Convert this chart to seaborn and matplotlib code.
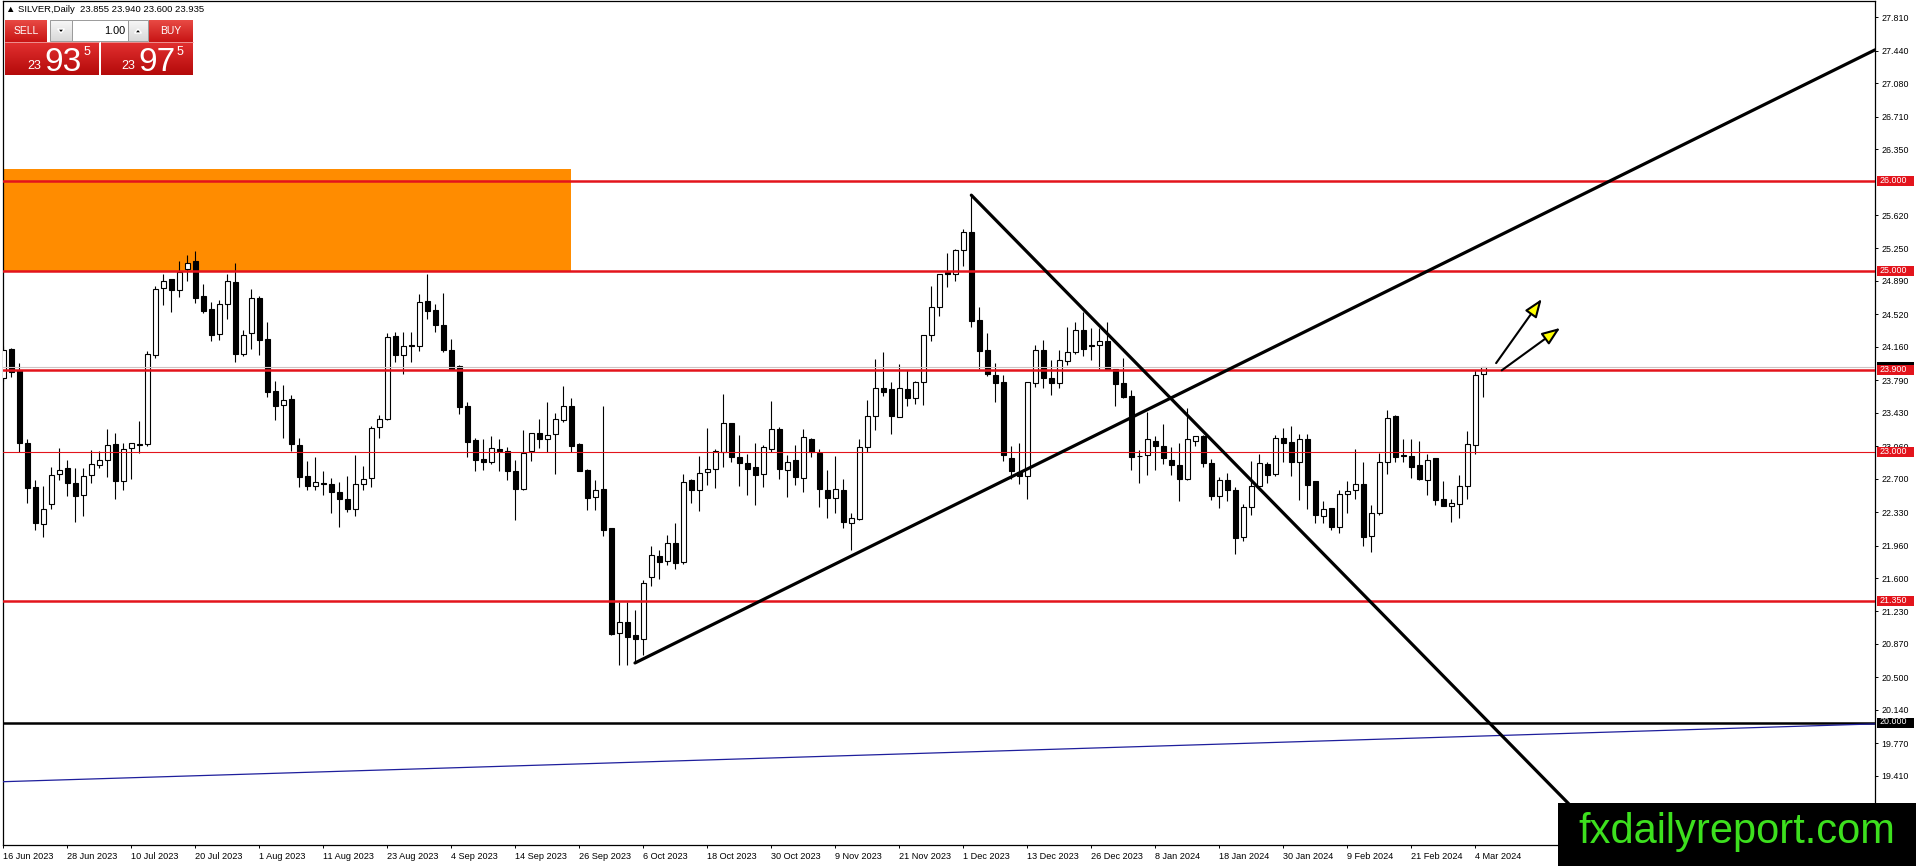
import numpy as np
import pandas as pd
import matplotlib
matplotlib.use("Agg")
import matplotlib.pyplot as plt
import matplotlib.transforms as mtransforms
import matplotlib.colors as mcolors
from matplotlib.patches import Rectangle, Polygon, FancyArrowPatch
import seaborn as sns

# ---------------- data ----------------
open_ = [23.82, 24.14, 23.90, 23.09, 22.61, 22.20, 22.42, 22.75, 22.82, 22.65,
         22.52, 22.74, 22.85, 22.91, 23.08, 22.67, 23.04, 23.08, 23.08, 24.07,
         24.81, 24.91, 24.79, 25.02, 25.11, 24.72, 24.58, 24.30, 24.64, 24.88,
         24.08, 24.31, 24.70, 24.25, 23.67, 23.52, 23.58, 23.07, 22.73, 22.62,
         22.65, 22.64, 22.55, 22.47, 22.37, 22.64, 22.71, 23.27, 23.36, 24.28,
         24.07, 24.18, 24.17, 24.67, 24.57, 24.40, 24.13, 23.95, 23.50, 23.13,
         22.92, 22.88, 23.03, 23.01, 22.79, 22.59, 23.01, 23.21, 23.14, 23.19,
         23.35, 23.50, 23.08, 22.80, 22.50, 22.59, 22.15, 20.99, 21.11, 20.97,
         20.92, 21.61, 21.84, 21.79, 21.99, 21.78, 22.69, 22.57, 22.77, 22.81,
         23.00, 23.32, 22.94, 22.87, 22.83, 22.75, 23.03, 23.25, 22.80, 22.91,
         22.71, 23.14, 22.99, 22.58, 22.49, 22.58, 22.21, 22.25, 23.05, 23.39,
         23.70, 23.69, 23.38, 23.69, 23.59, 23.77, 24.29, 24.60, 24.99, 24.97,
         25.23, 25.43, 24.46, 24.12, 23.85, 23.77, 22.93, 22.77, 22.73, 23.76,
         24.13, 23.81, 23.76, 24.00, 24.10, 24.35, 24.18, 24.18, 24.23, 23.92,
         23.76, 23.62, 22.95, 22.96, 23.12, 23.06, 22.91, 22.85, 22.70, 23.12,
         23.17, 22.87, 22.51, 22.69, 22.58, 22.05, 22.39, 22.62, 22.86, 22.75,
         23.15, 23.11, 22.88, 23.14, 22.67, 22.29, 22.38, 22.16, 22.53, 22.57,
         22.64, 22.07, 22.32, 22.88, 23.39, 22.96, 22.95, 22.85, 22.69, 22.93,
         22.47, 22.40, 22.42, 22.62, 23.07, 23.855]
high = [24.17, 24.15, 23.98, 23.14, 22.69, 22.62, 22.83, 23.04, 22.91, 22.82,
        22.82, 23.02, 23.01, 23.25, 23.21, 23.10, 23.10, 23.34, 24.11, 24.83,
        24.97, 24.91, 25.11, 25.18, 25.22, 24.86, 24.66, 24.68, 24.97, 25.09,
        24.35, 24.80, 24.72, 24.44, 23.78, 23.74, 23.63, 23.15, 22.90, 22.94,
        22.79, 22.71, 22.66, 22.73, 22.96, 22.84, 23.28, 23.41, 24.31, 24.32,
        24.33, 24.33, 24.75, 24.97, 24.63, 24.76, 24.25, 23.96, 23.55, 23.15,
        23.14, 23.17, 23.14, 23.05, 22.91, 23.24, 23.21, 23.36, 23.55, 23.43,
        23.73, 23.59, 23.10, 22.81, 22.69, 23.50, 22.15, 21.34, 21.34, 21.25,
        21.58, 21.95, 21.91, 22.08, 22.21, 22.75, 22.70, 22.95, 23.26, 23.03,
        23.64, 23.32, 23.18, 22.97, 23.09, 23.07, 23.56, 23.27, 22.96, 23.07,
        23.25, 23.15, 23.03, 22.80, 22.95, 22.70, 22.32, 23.14, 23.57, 24.03,
        24.10, 23.77, 23.97, 23.90, 23.78, 24.29, 24.83, 24.97, 25.20, 25.24,
        25.47, 25.84, 24.60, 24.31, 23.98, 23.85, 23.06, 23.09, 23.77, 24.18,
        24.24, 24.01, 24.13, 24.38, 24.43, 24.55, 24.37, 24.37, 24.44, 23.92,
        24.04, 23.68, 23.02, 23.44, 23.17, 23.31, 23.05, 23.10, 23.48, 23.17,
        23.18, 22.92, 22.72, 22.76, 22.61, 22.42, 22.90, 22.97, 22.88, 23.18,
        23.26, 23.28, 23.20, 23.20, 22.67, 22.45, 22.38, 22.58, 22.67, 23.03,
        22.89, 22.41, 22.98, 23.46, 23.41, 23.14, 23.14, 23.12, 22.97, 22.93,
        22.68, 22.47, 22.74, 23.23, 23.90, 23.940]
low = [23.78, 23.83, 23.00, 22.43, 22.13, 22.06, 22.37, 22.69, 22.51, 22.22,
       22.29, 22.65, 22.82, 22.72, 22.47, 22.57, 22.70, 22.98, 23.06, 24.04,
       24.62, 24.55, 24.71, 24.89, 24.65, 24.54, 24.22, 24.24, 24.47, 23.99,
       24.06, 24.14, 24.07, 23.60, 23.35, 23.15, 23.01, 22.61, 22.57, 22.57,
       22.52, 22.32, 22.17, 22.33, 22.29, 22.58, 22.61, 23.15, 23.35, 23.99,
       23.86, 23.99, 24.11, 24.47, 24.32, 24.10, 23.90, 23.42, 22.94, 22.78,
       22.80, 22.86, 22.78, 22.69, 22.24, 22.57, 22.90, 23.04, 23.00, 22.75,
       23.33, 23.00, 22.79, 22.35, 22.35, 22.07, 20.97, 20.64, 20.64, 20.66,
       20.75, 21.51, 21.59, 21.74, 21.70, 21.76, 22.43, 22.34, 22.63, 22.60,
       22.83, 22.88, 22.62, 22.52, 22.41, 22.61, 23.00, 22.70, 22.50, 22.63,
       22.55, 22.94, 22.39, 22.26, 22.32, 22.15, 21.91, 22.24, 23.00, 23.24,
       23.62, 23.20, 23.38, 23.50, 23.53, 23.52, 24.22, 24.50, 24.82, 24.89,
       25.05, 24.38, 23.91, 23.84, 23.55, 22.90, 22.70, 22.64, 22.47, 23.72,
       23.71, 23.63, 23.71, 23.96, 24.08, 24.06, 24.02, 23.92, 23.92, 23.50,
       23.59, 22.80, 22.65, 22.74, 22.80, 22.86, 22.74, 22.45, 22.69, 23.06,
       22.83, 22.46, 22.38, 22.45, 21.87, 22.01, 22.30, 22.58, 22.65, 22.73,
       22.89, 22.73, 22.46, 22.37, 22.21, 22.21, 22.13, 22.10, 22.32, 22.47,
       21.95, 21.89, 22.30, 22.75, 22.88, 22.88, 22.71, 22.69, 22.52, 22.41,
       22.40, 22.22, 22.27, 22.47, 22.97, 23.600]
close = [24.13, 23.88, 23.09, 22.60, 22.21, 22.37, 22.74, 22.80, 22.65, 22.51,
         22.73, 22.86, 22.91, 23.07, 22.68, 23.03, 23.10, 23.07, 24.08, 24.80,
         24.89, 24.79, 24.99, 25.09, 24.70, 24.56, 24.29, 24.63, 24.89, 24.08,
         24.29, 24.70, 24.24, 23.66, 23.51, 23.57, 23.08, 22.72, 22.62, 22.66,
         22.64, 22.55, 22.47, 22.36, 22.64, 22.70, 23.26, 23.36, 24.27, 24.07,
         24.17, 24.17, 24.66, 24.56, 24.40, 24.13, 23.92, 23.49, 23.11, 22.91,
         22.88, 23.04, 23.01, 22.78, 22.59, 22.98, 23.21, 23.14, 23.18, 23.36,
         23.51, 23.06, 22.79, 22.49, 22.58, 22.13, 20.98, 21.11, 20.95, 20.92,
         21.55, 21.85, 21.78, 21.99, 21.77, 22.66, 22.57, 22.76, 22.81, 23.01,
         23.32, 22.94, 22.87, 22.81, 22.74, 23.05, 23.25, 22.81, 22.89, 22.72,
         23.16, 23.00, 22.59, 22.49, 22.59, 22.22, 22.26, 23.05, 23.39, 23.70,
         23.66, 23.39, 23.70, 23.59, 23.77, 24.29, 24.60, 24.97, 24.97, 25.23,
         25.43, 24.45, 24.11, 23.86, 23.76, 22.96, 22.78, 22.73, 23.77, 24.13,
         23.82, 23.76, 24.01, 24.10, 24.35, 24.14, 24.17, 24.23, 23.92, 23.75,
         23.61, 22.94, 22.95, 23.14, 23.06, 22.93, 22.85, 22.70, 23.14, 23.17,
         22.87, 22.51, 22.69, 22.58, 22.04, 22.39, 22.62, 22.87, 22.74, 23.15,
         23.10, 22.89, 23.14, 22.63, 22.30, 22.37, 22.17, 22.53, 22.56, 22.64,
         22.06, 22.32, 22.88, 23.37, 22.94, 22.95, 22.83, 22.70, 22.91, 22.46,
         22.40, 22.43, 22.62, 23.08, 23.85, 23.935]

# level lines
red_levels = [26.000, 25.000, 23.900, 21.350]
thin_red_level = 23.000
black_level = 20.000
bid_price = 23.935
# supply zone (orange box): bars and prices
zone_k = [-0.5, 70.9]
zone_p = [25.000, 26.130]
# trendline anchors (bar index, price)
up_trend_k = [78.96, 107.5]
up_trend_p = [20.66, 21.91]
down_trend_k = [121.0, 184.6]
down_trend_p = [25.84, 20.10]
blue_k = [0.0, 184.6]
blue_p = [19.345, 19.850]
# arrows (start bar, start price, end bar, end price)
arrow1 = [186.6, 23.98, 192.3, 24.69]
arrow2 = [187.3, 23.90, 194.6, 24.37]
# visible price axis ticks
ytick_vals = [19.410, 19.770, 20.140, 20.500, 20.870, 21.230, 21.600,
              21.960, 22.330, 22.700, 23.060, 23.430, 23.790, 24.160, 24.520,
              24.890, 25.250, 25.620, 26.350, 26.710, 27.080, 27.440, 27.810]
header_text = "\u25B2 SILVER,Daily  23.855 23.940 23.600 23.935"
sell_quote = ["23", "93", "5"]
buy_quote = ["23", "97", "5"]
lot_text = "1.00"
watermark = "fxdailyreport.com"

# ---------------- build ----------------
dates = pd.bdate_range("2023-06-16", "2024-03-05")
dates = dates[~dates.isin(pd.to_datetime(["2023-12-25", "2024-01-01"]))]
n = len(open_)
dates = dates[:n]
df = pd.DataFrame({"k": np.arange(n), "open": open_, "high": high,
                   "low": low, "close": close})
df["bull"] = df["close"] >= df["open"]

sns.set_style("white")
plt.rcParams["font.family"] = ["Liberation Sans", "DejaVu Sans"]

W, H = 1916, 866
fig = plt.figure(figsize=(W / 100, H / 100), dpi=100)
fig.patch.set_facecolor("white")
ax_l, ax_r, ax_t, ax_b = 3, 1875, 1, 845
ax = fig.add_axes([ax_l / W, (H - ax_b) / H, (ax_r - ax_l) / W, (ax_b - ax_t) / H])
ax.set_facecolor("white")

x_left, x_right = -0.04, 233.96
y_bottom, y_top = 18.644, 27.99
ax.set_xlim(x_left, x_right)
ax.set_ylim(y_bottom, y_top)
px_per_price = (ax_b - ax_t) / (y_top - y_bottom)

# orange zone (background)
ax.add_patch(Rectangle((zone_k[0], zone_p[0]), zone_k[1] - zone_k[0],
                       zone_p[1] - zone_p[0], facecolor="#ff8c00",
                       edgecolor="none", zorder=1))

# candles
ax.vlines(df["k"], df["low"], df["high"], color="black", lw=0.8, zorder=3)
body_bot = np.minimum(df["open"], df["close"])
body_h = np.maximum((df["close"] - df["open"]).abs(), 0.004)
ax.bar(df["k"], body_h, bottom=body_bot, width=0.56,
       color=np.where(df["bull"], "white", "black"), edgecolor="black",
       linewidth=0.8, zorder=4)

# horizontal levels
ax.axhline(bid_price, color="#cfc4c4", lw=0.8, zorder=5)
for lv in red_levels:
    ax.axhline(lv, color="#e3141c", lw=1.8, zorder=5)
ax.axhline(thin_red_level, color="#e3141c", lw=0.8, zorder=5)
ax.axhline(black_level, color="black", lw=1.8, zorder=5)

# trendlines (rays to the right)
def ray(ks, ps, k_from, k_to):
    s = (ps[1] - ps[0]) / (ks[1] - ks[0])
    return [k_from, k_to], [ps[0] + s * (k_from - ks[0]), ps[0] + s * (k_to - ks[0])]

bx, by = ray(blue_k, blue_p, x_left - 1, x_right + 1)
sns.lineplot(x=bx, y=by, ax=ax, color="#1e1e9c", lw=0.9, legend=False,
             estimator=None, sort=False, zorder=5)
ux, uy = ray(up_trend_k, up_trend_p, up_trend_k[0], x_right)
sns.lineplot(x=ux, y=uy, ax=ax, color="black", lw=2.3, legend=False,
             estimator=None, sort=False, zorder=6)
dx, dy = ray(down_trend_k, down_trend_p, down_trend_k[0], x_right)
sns.lineplot(x=dx, y=dy, ax=ax, color="black", lw=2.3, legend=False,
             estimator=None, sort=False, zorder=6)
ax.set_xlim(x_left, x_right)
ax.set_ylim(y_bottom, y_top)
ax.set_xlabel("")
ax.set_ylabel("")

# arrows (patches, no text)
for a in (arrow1, arrow2):
    ax.add_patch(FancyArrowPatch((a[0], a[1]), (a[2], a[3]),
                                 arrowstyle="-|>,head_length=1.1,head_width=0.42",
                                 mutation_scale=10, facecolor="#ffff00",
                                 edgecolor="black", lw=1.5, shrinkA=0, shrinkB=0,
                                 zorder=7))

# axes / ticks
for s in ax.spines.values():
    s.set_color("black")
    s.set_linewidth(0.9)
ax.yaxis.tick_right()
ax.set_yticks(ytick_vals)
ax.set_yticklabels([f"{v:.3f}" for v in ytick_vals])
tick_idx = list(range(0, n, 8))
ax.set_xticks(tick_idx)
ax.set_xticklabels([f"{dates[i].day} {dates[i].strftime('%b %Y')}" for i in tick_idx])
ax.tick_params(axis="y", which="both", left=False, right=True, labelleft=False,
               labelright=True, length=2.4, width=0.7, pad=2.4, labelsize=6.4,
               direction="out", colors="black")
ax.tick_params(axis="x", bottom=True, length=2.4, width=0.7, pad=2.5,
               labelsize=6.6, direction="out", colors="black")
for lbl in ax.get_xticklabels():
    lbl.set_horizontalalignment("left")
ax.grid(False)

# price label boxes on the axis
trans = mtransforms.blended_transform_factory(ax.transAxes, ax.transData)
axw = ax_r - ax_l
box_h = 10.0 / px_per_price
# current-price marker partly hidden behind the 23.900 label
ax.add_patch(Rectangle((1.0 + 2.0 / axw, bid_price - box_h / 2), 37.0 / axw, box_h,
                       transform=trans, facecolor="black", edgecolor="none",
                       clip_on=False, zorder=19))

def price_box(val, fc, txt):
    ax.add_patch(Rectangle((1.0 + 2.0 / axw, val - box_h / 2), 37.0 / axw, box_h,
                           transform=trans, facecolor=fc, edgecolor="none",
                           clip_on=False, zorder=20))
    ax.text(1.0 + 5.0 / axw, val + 0.6 / px_per_price, txt, transform=trans,
            ha="left", va="center", fontsize=6.4, color="white", clip_on=False,
            zorder=21)

for lv in red_levels:
    price_box(lv, "#e3141c", f"{lv:.3f}")
price_box(thin_red_level, "#e3141c", f"{thin_red_level:.3f}")
price_box(black_level, "black", f"{black_level:.3f}")

# ---------------- overlay (pixel coordinates) ----------------
ov = fig.add_axes([0, 0, 1, 1], zorder=10)
ov.patch.set_visible(False)
ov.set_xlim(0, W)
ov.set_ylim(H, 0)
ov.axis("off")

def grad_rect(x0, y0, x1, y1, c_top, c_bot, z=2):
    t = np.linspace(0, 1, 64)[:, None]
    ct = np.array(mcolors.to_rgb(c_top))
    cb = np.array(mcolors.to_rgb(c_bot))
    img = (ct * (1 - t) + cb * t)[:, None, :]
    ov.imshow(img, extent=(x0, x1, y1, y0), origin="upper", aspect="auto",
              interpolation="bilinear", zorder=z)

ov.text(6, 10, header_text, fontsize=6.8, color="black", ha="left", va="center")

# trade panel
grad_rect(5, 20, 47, 42, "#e84a44", "#c81414")
ov.text(26, 31.5, "SELL", fontsize=7.5, color="white", ha="center", va="center")
grad_rect(50, 20, 72, 41, "#f8f8f8", "#d8d8d8")
ov.add_patch(Rectangle((50, 20), 22, 21, fill=False, ec="#9a9a9a", lw=0.7, zorder=3))
ov.add_patch(Polygon([(57.5, 29), (64.5, 29), (61, 33)], closed=True, fc="black", zorder=4))
ov.add_patch(Rectangle((72, 20), 56, 21, fc="white", ec="#9a9a9a", lw=0.7, zorder=3))
ov.text(125, 31, lot_text, fontsize=7.8, color="black", ha="right", va="center")
grad_rect(128, 20, 148, 41, "#f8f8f8", "#d8d8d8")
ov.add_patch(Rectangle((128, 20), 20, 21, fill=False, ec="#9a9a9a", lw=0.7, zorder=3))
ov.add_patch(Polygon([(134.5, 33), (141.5, 33), (138, 29)], closed=True, fc="black", zorder=4))
grad_rect(149, 20, 193, 42, "#e84a44", "#c81414")
ov.text(171, 31.5, "BUY", fontsize=7.5, color="white", ha="center", va="center")

grad_rect(5, 42, 99, 75, "#e23030", "#b40a0a")
grad_rect(101, 42, 193, 75, "#e23030", "#b40a0a")
ov.plot([5, 99], [42, 42], color="#f0a0a0", lw=0.6, zorder=3)
ov.plot([101, 193], [42, 42], color="#f0a0a0", lw=0.6, zorder=3)
for (q, xs) in ((sell_quote, (34, 63.5, 86.5)), (buy_quote, (128, 157, 180))):
    ov.text(xs[0], 69, q[0], fontsize=9, color="white", ha="center", va="baseline", zorder=5)
    ov.text(xs[1], 71, q[1], fontsize=24, color="white", ha="center", va="baseline", zorder=5)
    ov.text(xs[2], 55, q[2], fontsize=9, color="white", ha="center", va="baseline", zorder=5)

# watermark
ov.add_patch(Rectangle((1558, 803), W - 1558, H - 803, fc="black", ec="none", zorder=8))
ov.text(1737, 843, watermark, fontsize=30, color="#3de01e", ha="center",
        va="baseline", zorder=9)

ov.set_xlim(0, W)
ov.set_ylim(H, 0)

fig.savefig("out.png", dpi=100, facecolor="white")
